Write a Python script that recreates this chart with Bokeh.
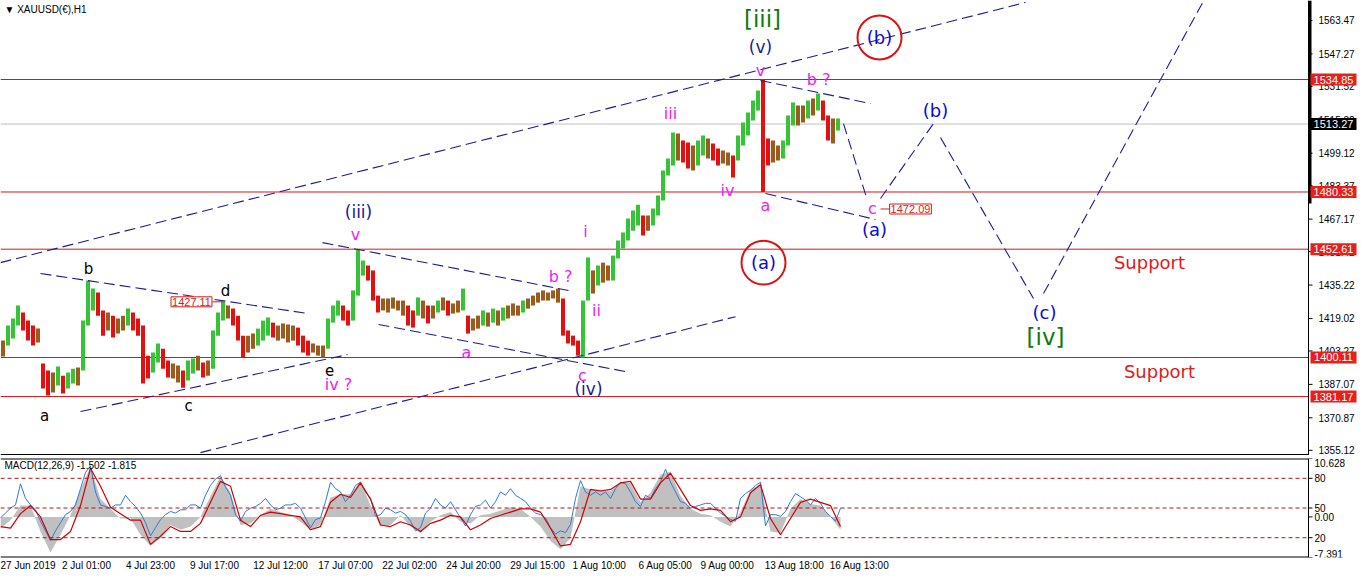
from bokeh.plotting import figure
from bokeh.layouts import column
from bokeh.models import Range1d, FixedTicker, Label, ColumnDataSource
from bokeh.embed import file_html
from bokeh.resources import INLINE
from bokeh.core.properties import value

# ---------------- data ----------------
HOURS_PER_BAR = 5          # each drawn bar groups 5 hourly bars
bar_high = [
    1408.3, 1415.6, 1419.0, 1425.3, 1421.9, 1418.0, 1415.6, 1414.1, 1397.2, 1393.8,
    1392.8, 1395.7, 1391.3, 1392.8, 1394.7, 1395.2, 1418.0, 1437.4, 1433.5, 1431.6,
    1422.9, 1421.9, 1420.4, 1419.0, 1420.4, 1423.8, 1421.9, 1419.0, 1415.6, 1401.0,
    1402.5, 1406.9, 1404.4, 1398.6, 1397.2, 1396.2, 1393.8, 1398.6, 1399.6, 1401.0,
    1397.7, 1398.6, 1413.2, 1421.9, 1427.1, 1425.3, 1423.8, 1420.4, 1410.7, 1410.7,
    1411.7, 1414.1, 1418.0, 1419.5, 1417.0, 1415.6, 1416.6, 1416.1, 1415.6, 1414.6,
    1410.7, 1408.3, 1406.9, 1405.9, 1405.9, 1419.0, 1425.3, 1427.7, 1425.3, 1422.9,
    1432.6, 1452.6, 1447.1, 1444.7, 1442.3, 1430.1, 1428.7, 1428.7, 1429.2, 1427.7,
    1427.7, 1425.3, 1422.9, 1429.2, 1427.7, 1425.3, 1425.3, 1427.7, 1429.2, 1427.7,
    1426.3, 1427.7, 1433.5, 1420.4, 1419.0, 1420.4, 1422.9, 1421.9, 1423.8, 1422.9,
    1424.3, 1425.3, 1426.3, 1425.3, 1427.7, 1428.7, 1430.1, 1431.6, 1432.6, 1431.6,
    1432.6, 1433.5, 1428.7, 1413.2, 1410.7, 1408.3, 1427.7, 1448.6, 1442.3, 1444.7,
    1446.1, 1444.7, 1449.5, 1456.8, 1460.7, 1467.5, 1471.3, 1474.2, 1468.9, 1468.9,
    1472.3, 1478.6, 1490.7, 1496.6, 1509.2, 1508.7, 1505.3, 1504.3, 1502.9, 1505.3,
    1507.7, 1506.2, 1503.8, 1501.4, 1500.4, 1499.5, 1498.0, 1507.7, 1514.0, 1518.9,
    1524.7, 1529.5, 1534.85, 1506.2, 1505.3, 1502.9, 1505.3, 1517.4, 1523.7, 1522.2,
    1522.2, 1524.7, 1525.6, 1528.1, 1524.7, 1517.4, 1515.9, 1515.9,
]
bar_low = [
    1400.6, 1405.9, 1409.3, 1415.6, 1413.2, 1408.3, 1405.9, 1407.4, 1385.1, 1381.7,
    1383.1, 1386.5, 1382.6, 1385.1, 1387.5, 1386.5, 1393.8, 1415.6, 1422.9, 1420.4,
    1410.7, 1413.2, 1409.8, 1411.7, 1413.2, 1415.6, 1413.2, 1410.7, 1387.5, 1389.9,
    1392.8, 1397.7, 1394.7, 1390.4, 1389.9, 1388.0, 1385.5, 1388.9, 1392.3, 1393.8,
    1390.4, 1391.3, 1394.7, 1410.7, 1418.0, 1419.0, 1415.6, 1408.3, 1400.1, 1402.5,
    1404.4, 1405.9, 1408.3, 1410.7, 1409.8, 1408.3, 1409.3, 1407.4, 1408.3, 1405.9,
    1402.5, 1401.0, 1402.5, 1401.0, 1400.1, 1404.4, 1417.0, 1420.4, 1418.0, 1415.6,
    1418.0, 1430.1, 1439.8, 1437.4, 1427.7, 1421.9, 1422.9, 1421.9, 1423.8, 1422.9,
    1420.4, 1415.6, 1414.6, 1420.4, 1419.0, 1416.6, 1419.0, 1421.9, 1422.9, 1420.4,
    1421.4, 1421.9, 1422.9, 1411.7, 1413.2, 1414.1, 1415.6, 1415.1, 1417.0, 1415.6,
    1418.0, 1419.0, 1420.4, 1420.4, 1421.9, 1423.8, 1425.3, 1426.7, 1427.7, 1427.7,
    1428.7, 1426.7, 1410.7, 1406.9, 1405.9, 1401.0, 1400.1, 1427.7, 1431.1, 1435.0,
    1436.4, 1437.4, 1437.4, 1448.1, 1452.9, 1456.8, 1461.6, 1464.1, 1459.2, 1461.6,
    1464.1, 1468.9, 1476.2, 1488.3, 1493.2, 1495.6, 1494.6, 1491.7, 1490.7, 1493.2,
    1498.0, 1496.6, 1495.6, 1493.2, 1494.1, 1493.2, 1487.3, 1495.6, 1502.9, 1507.7,
    1515.0, 1519.8, 1480.3, 1493.2, 1494.6, 1495.6, 1496.6, 1502.9, 1512.6, 1512.6,
    1514.0, 1515.9, 1517.4, 1519.8, 1515.0, 1505.3, 1503.8, 1510.1,
]

MACD_STEP = 10
macd_hist = [
    -2.06, -0.59, 2.06, 2.06, -2.65, -6.47, -3.24, 0.29, 5.0, 9.12,
    3.24, 1.47, -0.29, -0.29, -3.24, -5.29, -3.82, -1.47, -2.35, -1.76,
    0.0, 3.82, 7.35, 4.41, -1.47, -1.18, 0.29, 1.47, 0.88, 0.29,
    -0.88, -2.35, -1.47, 3.53, 4.12, 4.12, 6.47, 2.06, -1.76, -1.47,
    0.29, -1.76, -2.94, -0.88, 0.29, 0.88, -0.88, -1.18, 0.29, 0.59,
    1.18, 1.76, 1.47, 0.0, -1.76, -4.41, -5.88, -3.82, 5.59, 5.0,
    5.0, 4.71, 6.18, 6.18, 2.65, 4.41, 7.65, 8.24, 3.82, 1.47,
    0.59, 0.29, -0.88, -1.76, 0.88, 5.0, 5.88, -2.65, -2.94, 1.47,
    3.24, 2.35, 2.06, 0.0, -2.35,
]
macd_signal = [
    -1.76, -2.06, 0.59, 2.06, 0.0, -4.12, -4.12, -2.65, 2.06, 8.82,
    5.59, 1.76, 0.59, -0.59, -0.59, -5.0, -3.53, -1.76, -2.65, -2.65,
    -1.18, 2.65, 6.47, 5.59, -0.59, -1.76, 0.29, 0.88, 0.59, 0.29,
    0.0, -2.35, -1.76, 2.65, 4.12, 3.53, 6.18, 3.24, -1.47, -1.76,
    -0.88, -1.47, -2.65, -1.18, -0.59, 0.29, 0.0, -2.35, -1.47, -0.29,
    0.29, 0.88, 1.47, 1.47, 0.88, -2.06, -5.29, -5.0, -0.88, 5.0,
    4.71, 5.0, 6.18, 6.47, 3.24, 3.24, 6.18, 7.94, 5.0, 2.06,
    1.18, 1.47, 1.18, -0.88, 0.0, 4.41, 5.88, -0.29, -3.24, -0.29,
    2.65, 3.24, 2.65, 2.06, -1.76,
]
OSC_STEP = 5
osc_line = [
    40.0, 44.9, 49.8, 53.1, 74.4, 59.7, 53.1, 48.2, 36.7, 26.9,
    17.0, 26.9, 35.1, 43.3, 46.5, 53.1, 69.5, 85.9, 92.5, 66.2,
    53.1, 51.5, 49.8, 53.1, 53.1, 62.9, 56.4, 51.5, 44.9, 35.1,
    21.9, 30.1, 38.3, 43.3, 46.5, 44.9, 48.2, 48.2, 53.1, 53.1,
    49.8, 62.9, 72.8, 79.3, 82.6, 71.1, 62.9, 43.3, 36.7, 46.5,
    49.8, 51.5, 54.7, 59.7, 53.1, 48.2, 49.8, 53.1, 53.1, 54.7,
    49.8, 40.0, 30.1, 38.3, 40.0, 56.4, 76.1, 69.5, 66.2, 56.4,
    62.9, 72.8, 76.1, 66.2, 59.7, 41.6, 43.3, 49.8, 48.2, 44.9,
    46.5, 43.3, 36.7, 26.9, 30.1, 44.9, 49.8, 59.7, 53.1, 49.8,
    56.4, 48.2, 40.0, 31.8, 43.3, 51.5, 53.1, 58.0, 49.8, 56.4,
    66.2, 62.9, 69.5, 62.9, 59.7, 56.4, 49.8, 44.9, 43.3, 40.0,
    30.1, 23.6, 26.9, 25.2, 33.4, 59.7, 77.7, 66.2, 62.9, 66.2,
    62.9, 66.2, 59.7, 69.5, 76.1, 74.4, 66.2, 56.4, 51.5, 62.9,
    59.7, 69.5, 76.1, 89.2, 76.1, 66.2, 56.4, 54.7, 49.8, 51.5,
    53.1, 54.7, 54.7, 49.8, 44.9, 41.6, 38.3, 36.7, 59.7, 64.6,
    67.9, 72.8, 76.1, 31.8, 43.3, 43.3, 41.6, 46.5, 56.4, 64.6,
    61.3, 58.0, 53.1, 59.7, 54.7, 46.5, 41.6, 36.7, 49.8,
]
osc_levels = [80, 50, 20]
macd_top, macd_bottom = 10.628, -7.391

price_ticks = [1563.47, 1547.27, 1531.52, 1515.32, 1499.12, 1483.37, 1467.17,
               1451.42, 1435.22, 1419.02, 1403.27, 1387.07, 1370.87, 1355.12]
level_prices = [1534.85, 1480.33, 1452.61, 1400.11, 1381.17]
last_price = 1513.27
price_top, price_bottom = 1573.15, 1352.6

time_tick_pos = [25, 86, 150, 214, 280, 345, 409, 473, 537, 599, 665, 727, 794, 859]
time_tick_labels = ["27 Jun 2019", "2 Jul 01:00", "4 Jul 23:00", "9 Jul 17:00",
                    "12 Jul 12:00", "17 Jul 07:00", "22 Jul 02:00", "24 Jul 20:00",
                    "29 Jul 15:00", "1 Aug 10:00", "6 Aug 05:00", "9 Aug 00:00",
                    "13 Aug 18:00", "16 Aug 13:00"]

# trend lines: x0, price0, x1, price1
tl_x0 = [0, 200, 80, 40, 322, 378, 760, 765, 843, 880, 940, 1043]
tl_p0 = [1446.1, 1354.0, 1373.9, 1440.8, 1455.8, 1416.1, 1534.4, 1479.6, 1513.5, 1477.2, 1506.7, 1431.1]
tl_x1 = [1025, 735, 347, 308, 568, 625, 870, 875, 866, 933, 1033, 1210]
tl_p1 = [1572.2, 1419.9, 1401.5, 1421.4, 1432.6, 1393.3, 1523.2, 1467.0, 1477.6, 1513.5, 1428.7, 1579.1]

BLK, MAG, NAVY, BLUE, GRN, RED = "#000000", "#f01cf0", "#1a1a90", "#0a0ad0", "#0e7a10", "#e01a1a"
wave_text = ["a", "b", "c", "d", "e", "iv ?", "(iii)", "v", "a", "b ?", "c", "(iv)", "i", "ii",
             "iii", "iv", "a", "(a)", "(v)", "v", "[iii]", "b ?", "(b)", "(b)", "c", "(a)",
             "Support", "Support", "(c)", "[iv]"]
wave_x = [44, 88, 188, 225, 329, 338, 358, 355, 466, 560, 582, 588, 585, 596,
          670, 727, 765, 763, 760, 760, 762, 818, 879, 935, 872, 874,
          1149, 1159, 1044, 1045]
wave_p = [1371.9, 1443.2, 1376.8, 1432.1, 1394.2, 1387.0, 1470.4, 1459.7, 1402.5, 1439.4, 1391.3, 1385.0, 1461.2, 1422.9,
          1518.4, 1481.0, 1473.8, 1446.1, 1550.4, 1539.2, 1564.4, 1534.8, 1555.2, 1519.8, 1472.3, 1462.1,
          1446.1, 1393.3, 1421.9, 1410.2]
wave_color = [BLK, BLK, BLK, BLK, BLK, MAG, NAVY, MAG, MAG, MAG, MAG, NAVY, MAG, MAG,
              MAG, MAG, MAG, BLUE, NAVY, MAG, GRN, MAG, BLUE, BLUE, MAG, BLUE,
              RED, RED, BLUE, GRN]
wave_size = ["15px"] * 5 + ["16px", "17px", "16px", "16px", "16px", "16px", "17px", "16px", "16px",
             "16px", "16px", "16px", "18px", "17px", "16px", "23px", "16px", "18px", "18px", "16px", "18px",
             "18px", "18px", "18px", "23px"]

circle_x = [763, 879]
circle_p = [1446.1, 1555.2]

# ---------------- layout constants ----------------
FONT = "Liberation Sans"
PAGE_W, MAIN_H, MACD_H = 1361, 455, 99
AXIS_X = 1308          # x position (px == data unit) of the price scale line
X_END = PAGE_W
PX = (price_top - price_bottom) / MAIN_H      # price units per pixel

p = figure(frame_width=PAGE_W, frame_height=MAIN_H, x_range=Range1d(0, X_END),
           y_range=Range1d(price_bottom, price_top), output_backend="svg",
           toolbar_location=None, x_axis_location=None, y_axis_location=None,
           min_border_left=0, min_border_right=0, min_border_top=0, min_border_bottom=0,
           outline_line_color=None, background_fill_color="white", border_fill_color="white")
p.grid.visible = False

# horizontal level lines (end at the price scale)
hl_p = level_prices + [last_price]
hl_c = ["#d41616"] * len(level_prices) + ["#c0c0c0"]
p.segment(x0=[0] * len(hl_p), y0=hl_p, x1=[AXIS_X] * len(hl_p), y1=hl_p, line_color=hl_c, line_width=1)

# bars
bx = [i * HOURS_PER_BAR + HOURS_PER_BAR / 2 for i in range(len(bar_high))]
mids = [(h + l) / 2 for h, l in zip(bar_high, bar_low)]
cols = []
prev = mids[0]
for m_ in mids:
    d = m_ - prev
    cols.append("#35c435" if d > 1.5 else ("#e41010" if d < -1.5 else "#9a5b1c"))
    prev = m_
p.vbar(x=bx, top=bar_high, bottom=bar_low, width=4.0, fill_color=cols, line_color=None)

# trend lines
p.segment(x0=tl_x0, y0=tl_p0, x1=tl_x1, y1=tl_p1, line_color="#1c1c8c",
          line_width=1.1, line_dash="11 5")

# circles
p.ellipse(x=circle_x, y=circle_p, width=44, height=21.3, fill_color=None,
          line_color="#dd1111", line_width=2)

# wave labels
src = ColumnDataSource(dict(x=wave_x, y=wave_p, t=wave_text, c=wave_color, s=wave_size))
p.text(x="x", y="y", text="t", text_color="c", text_font_size="s", source=src,
       text_font=value("DejaVu Sans"), text_align="center", text_baseline="middle")

# price tag boxes on chart
p.segment(x0=[212, 880], y0=[1427.11, 1472.09], x1=[224, 891], y1=[1427.11, 1472.09],
          line_color="#e01a1a", line_width=1)
for xx, pr in [(191, 1427.11), (910, 1472.09)]:
    p.add_layout(Label(x=xx, y=pr, text=f"{pr:.2f}", text_align="center", text_baseline="middle",
                       text_color="#e01a1a", text_font=FONT, text_font_size="11px",
                       background_fill_color="white", border_line_color="#e01a1a", padding=1))

# ---- price scale on the right ----
p.segment(x0=[AXIS_X], y0=[price_bottom], x1=[AXIS_X], y1=[price_top], line_color="black", line_width=1)
p.segment(x0=[AXIS_X + 1.5], y0=[1474.7], x1=[AXIS_X + 1.5], y1=[price_top], line_color="black", line_width=3)
n = len(price_ticks)
p.segment(x0=[AXIS_X] * n, y0=price_ticks, x1=[AXIS_X + 4] * n, y1=price_ticks, line_color="black")
p.text(x=[AXIS_X + 10] * n, y=price_ticks, text=[f"{t:.2f}" for t in price_ticks],
       text_font=value(FONT), text_font_size="10px", text_color="black",
       text_align="left", text_baseline="middle")
tag_p = level_prices + [last_price]
tag_c = ["#e8201c"] * len(level_prices) + ["#000000"]
p.rect(x=[AXIS_X + 25] * len(tag_p), y=tag_p, width=46, height=12 * PX,
       fill_color=tag_c, line_color=None)
p.text(x=[AXIS_X + 25] * len(tag_p), y=tag_p, text=[f"{t:.2f}" for t in tag_p],
       text_font=value(FONT), text_font_size="11px", text_color="white",
       text_align="center", text_baseline="middle")
# bottom separator
p.segment(x0=[0], y0=[price_bottom], x1=[AXIS_X], y1=[price_bottom], line_color="black", line_width=3)

p.add_layout(Label(x=4, y=1568.8, text="\u25bc XAUUSD(\u20ac),H1", text_baseline="middle",
                   text_font=FONT, text_font_size="10px", text_color="black"))

# ---------------- MACD panel ----------------
m = figure(frame_width=PAGE_W, frame_height=MACD_H, x_range=p.x_range,
           y_range=Range1d(macd_bottom, macd_top), output_backend="svg",
           toolbar_location=None, y_axis_location=None,
           min_border_left=0, min_border_right=0, min_border_top=3, min_border_bottom=0,
           outline_line_color=None, background_fill_color="white", border_fill_color="white")
m.grid.visible = False

def osc_to_macd(v):
    return macd_bottom + v / 100.0 * (macd_top - macd_bottom)

hx = [i * MACD_STEP for i in range(len(macd_hist))]
m.varea(x=hx, y1=[0] * len(hx), y2=macd_hist, fill_color="#c0c0c0")
ox = [i * OSC_STEP for i in range(len(osc_line))]
m.line(ox, [osc_to_macd(v) for v in osc_line], line_color="#2b7bd6", line_width=1)
m.line(hx, macd_signal, line_color="#d00000", line_width=1.2)

lvl_pos = [osc_to_macd(v) for v in osc_levels]
m.segment(x0=[0] * 3, y0=lvl_pos, x1=[AXIS_X] * 3, y1=lvl_pos, line_color="#c01010",
          line_width=1, line_dash="4 3")
# frame lines
m.segment(x0=[0, 0], y0=[macd_top, macd_bottom], x1=[AXIS_X, AXIS_X], y1=[macd_top, macd_bottom],
          line_color="black", line_width=2)
m.segment(x0=[AXIS_X], y0=[macd_bottom], x1=[AXIS_X], y1=[macd_top], line_color="black", line_width=1)

m_tick_v = [macd_top] + lvl_pos + [0.0, macd_bottom]
m_tick_t = ["10.628"] + [str(v) for v in osc_levels] + ["0.00", "-7.391"]
m_tick_b = ["top", "middle", "middle", "middle", "middle", "bottom"]
m.segment(x0=[AXIS_X] * 6, y0=m_tick_v, x1=[AXIS_X + 4] * 6, y1=m_tick_v, line_color="black")
m.text(x=[AXIS_X + 6] * 6, y=m_tick_v, text=m_tick_t, text_baseline=m_tick_b,
       text_font=value(FONT), text_font_size="10px", text_color="black", text_align="left")

mx = m.xaxis[0]
mx.ticker = FixedTicker(ticks=time_tick_pos)
mx.major_label_overrides = {pos: lab for pos, lab in zip(time_tick_pos, time_tick_labels)}
mx.major_label_text_font = FONT
mx.major_label_text_font_size = "10px"
mx.major_label_text_color = "black"
mx.axis_line_color = None
mx.major_tick_line_color = None
mx.minor_tick_line_color = None
mx.major_tick_out = 0
mx.major_label_standoff = 2

m.add_layout(Label(x=4, y=9.4, text="MACD(12,26,9) -1.502 -1.815", text_baseline="middle",
                   text_font=FONT, text_font_size="10px", text_color="black"))

layout = column(p, m, spacing=0)
open("out.html", "w").write(file_html(layout, INLINE))
